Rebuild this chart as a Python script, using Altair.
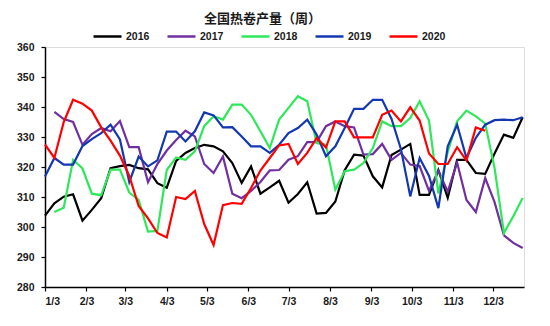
import altair as alt
import pandas as pd

title_text = "全国热卷产量（周）"
years = ["2016", "2017", "2018", "2019", "2020"]
colors = ["#000000", "#7030A0", "#2EE85A", "#1538B0", "#FF0000"]
first_week = [0, 1, 1, 0, 0]  # week index of each series' first point (weeks from 1/3)

v2016 = [303.8, 307.9, 310.1, 310.9, 302.1, 305.7, 309.6, 319.6, 320.3, 320.7,
         319.6, 319.2, 314.6, 313.1, 322.0, 324.7, 326.3, 327.4, 326.9, 325.2,
         321.3, 314.7, 320.2, 311.1, 313.2, 315.4, 308.1, 311.0, 314.9, 304.5,
         304.7, 308.5, 318.9, 324.1, 323.8, 316.9, 313.2, 324.0, 325.8, 327.7,
         310.7, 310.7, 319.0, 309.7, 322.4, 322.4, 318.0, 317.7, 324.5, 330.8,
         329.7, 336.6]
v2017 = [338.4, 336.0, 335.0, 327.4, 331.0, 333.0, 331.9, 335.3, 326.6, 326.6,
         314.9, 321.0, 325.5, 329.0, 332.1, 330.2, 321.0, 318.0, 323.5, 311.1,
         309.6, 312.0, 315.0, 318.9, 319.0, 322.4, 323.6, 328.3, 328.3, 333.6,
         335.2, 333.6, 333.2, 324.1, 324.3, 327.7, 322.4, 324.7, 320.8, 320.3,
         312.0, 318.8, 311.8, 321.5, 309.0, 305.0, 316.3, 308.3, 297.2, 294.7,
         293.0]
v2018 = [305.0, 306.4, 322.4, 319.5, 311.1, 310.6, 319.1, 319.1, 311.5, 309.0,
         298.5, 298.7, 319.0, 323.2, 322.4, 325.2, 333.6, 336.9, 335.8, 340.8,
         340.8, 337.4, 331.9, 326.3, 335.8, 339.7, 343.6, 341.9, 328.0, 327.4,
         312.4, 318.6, 319.1, 321.3, 326.3, 335.2, 333.6, 333.6, 336.3, 341.9,
         335.5, 311.2, 325.0, 335.2, 338.8, 336.9, 334.5, 319.7, 298.0, 303.6,
         309.7]
v2019 = [316.8, 323.0, 320.8, 320.8, 327.0, 329.3, 331.3, 334.1, 329.2, 315.0,
         323.5, 320.2, 322.2, 331.8, 331.8, 328.5, 331.9, 338.2, 337.2, 333.2,
         333.3, 330.2, 326.9, 326.9, 324.7, 327.4, 331.3, 333.0, 335.8, 330.8,
         323.6, 326.9, 333.0, 339.4, 339.4, 342.4, 342.4, 336.0, 326.0, 310.2,
         323.0, 317.0, 306.3, 326.9, 334.1, 323.0, 329.7, 334.1, 335.6, 335.8,
         335.6, 336.6]
v2020 = [327.5, 323.0, 335.0, 342.4, 341.1, 338.8, 333.2, 328.8, 323.8, 317.0,
         307.0, 302.9, 298.0, 296.5, 310.0, 309.3, 312.0, 301.0, 294.0, 307.3,
         308.0, 307.7, 313.0, 318.8, 323.0, 327.2, 327.7, 321.0, 324.7, 329.7,
         326.5, 335.2, 335.2, 329.9, 329.9, 329.9, 337.4, 338.8, 335.2, 339.9,
         335.5, 324.5, 321.0, 321.0, 326.6, 322.2, 333.2, 332.1]

y_ticks = [280, 290, 300, 310, 320, 330, 340, 350, 360]
tick_months = list(range(1, 13))

series = [v2016, v2017, v2018, v2019, v2020]
base = pd.Timestamp("2020-01-03")
rows = []
for yr, start, vals in zip(years, first_week, series):
    for k, v in enumerate(vals):
        d = base + pd.Timedelta(days=7 * (start + k))
        rows.append({"year": yr, "date": d.strftime("%Y-%m-%dT00:00:00"), "value": v})
df = pd.DataFrame(rows)

x_axis = alt.Axis(
    values=[alt.DateTime(year=2020, month=m, date=3) for m in tick_months],
    format="%-m/%-d", title=None, grid=False,
    labelFont="Liberation Sans", labelFontSize=10.5, labelFontWeight="bold",
    labelColor="#1a1a1a", labelPadding=5, labelAngle=0,
    domainColor="#000000", domainWidth=1.5, tickColor="#000000",
    tickSize=4, tickWidth=1.2,
)
y_axis = alt.Axis(
    values=y_ticks, title=None, grid=False,
    labelFont="Liberation Sans", labelFontSize=10.5, labelFontWeight="bold",
    labelColor="#1a1a1a", labelPadding=7,
    domainColor="#000000", domainWidth=1.5, tickColor="#000000",
    tickSize=4, tickWidth=1.2,
)

chart = alt.Chart(df).mark_line(strokeWidth=2.2, strokeJoin="miter", interpolate="linear").encode(
    x=alt.X("date:T", axis=x_axis,
            scale=alt.Scale(domain=[alt.DateTime(year=2020, month=1, date=3),
                                    alt.DateTime(year=2020, month=12, date=26)], nice=False)),
    y=alt.Y("value:Q", axis=y_axis, scale=alt.Scale(domain=[280, 360], nice=False, zero=False)),
    color=alt.Color("year:N", scale=alt.Scale(domain=years, range=colors),
                    legend=alt.Legend(
                        title=None, orient="none", direction="horizontal",
                        legendX=47, legendY=-26,
                        symbolType="stroke", symbolSize=784, symbolStrokeWidth=2.5,
                        labelFont="Liberation Sans", labelFontSize=10.5, labelFontWeight="bold",
                        labelColor="#1a1a1a", labelOffset=3, columnPadding=12, padding=0,
                    )),
).properties(
    width=479, height=240,
    title=alt.TitleParams(title_text, font="Noto Sans CJK SC", fontSize=13, fontWeight="bold",
                          color="#1a1a1a", anchor="middle", dx=-22, dy=19, offset=14),
    autosize=alt.AutoSizeParams(type="none"),
    padding={"left": 45, "top": 47, "right": 26, "bottom": 39},
).configure_view(stroke=None).configure(background="white")

chart.save("out.html", embed_options={"renderer": "svg", "actions": False})
